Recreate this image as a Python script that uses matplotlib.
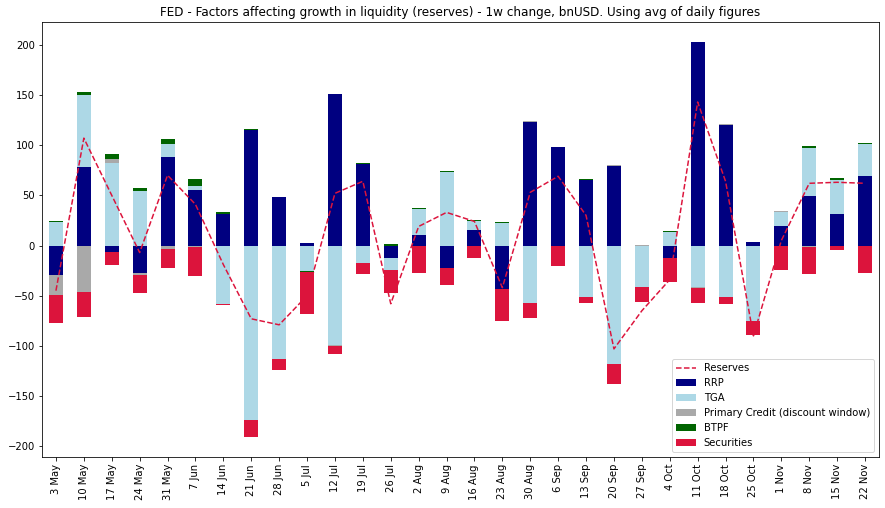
import numpy as np
import matplotlib
matplotlib.use('Agg')
import matplotlib.pyplot as plt

weeks = ['3 May', '10 May', '17 May', '24 May', '31 May', '7 Jun', '14 Jun', '21 Jun', '28 Jun', '5 Jul',
         '12 Jul', '19 Jul', '26 Jul', '2 Aug', '9 Aug', '16 Aug', '23 Aug', '30 Aug', '6 Sep', '13 Sep',
         '20 Sep', '27 Sep', '4 Oct', '11 Oct', '18 Oct', '25 Oct', '1 Nov', '8 Nov', '15 Nov', '22 Nov']

rrp = [-29, 78, -6, -27, 88, 55, 31, 115, 48, 3, 151, 81, -12, 10, -22, 15, -43, 123, 98, 65,
       79, 0, -12, 203, 120, 4, 19, 49, 31, 69]
tga = [23, 72, 82, 54, 13, 4, -58, -174, -113, -25, -99, -17, -12, 26, 73, 9, 22, -57, 0, -51,
       -118, -41, 13, -41, -51, -75, 14, 48, 34, 32]
primary_credit = [-20, -46, 4, -2, -3, -1, 0, 0, 0, 0, -1, 0, 0, 0, 0, 0, 0, 1, 0, 0,
                  1, 1, 0, -1, 1, 0, 1, -1, 0, 0]
btpf = [1, 3, 5, 3, 5, 7, 2, 1, 0, -1, 0, 1, 2, 1, 1, 1, 1, 0, 0, 1,
        0, 0, 1, 0, 0, 0, 0, 2, 2, 1]
securities = [-28, -25, -13, -18, -19, -29, -1, -17, -11, -42, -8, -11, -23, -27, -17, -12, -32, -15, -20, -6,
              -20, -15, -24, -15, -7, -14, -24, -27, -4, -27]

reserves = [-45, 107, 50, -7, 70, 41, -19, -73, -79, -50, 52, 64, -58, 19, 33, 24, -42, 53, 69, 30,
            -103, -65, -34, 143, 64, -90, 5, 62, 63, 62]

series = [('RRP', rrp, 'navy'),
          ('TGA', tga, 'lightblue'),
          ('Primary Credit (discount window)', primary_credit, 'darkgray'),
          ('BTPF', btpf, 'darkgreen'),
          ('Securities', securities, 'crimson')]

fig = plt.figure(figsize=(885 / 72, 508 / 72), dpi=72)
ax = fig.add_axes([42 / 885, 51 / 508, 837 / 885, 435 / 508])

x = np.arange(len(weeks))
ax.plot(x, reserves, color='crimson', linestyle='--', linewidth=1.5, label='Reserves')

# stack positives and negatives separately, like pandas stacked bars
pos_base = np.zeros(len(weeks))
neg_base = np.zeros(len(weeks))
for name, vals, color in series:
    v = np.array(vals, dtype=float)
    bottom = np.where(v >= 0, pos_base, neg_base)
    ax.bar(x, v, width=0.5, bottom=bottom, color=color, label=name)
    pos_base = pos_base + np.where(v >= 0, v, 0)
    neg_base = neg_base + np.where(v < 0, v, 0)

# 5% margin around the stacked extremes
lo, hi = neg_base.min(), pos_base.max()
pad = 0.05 * (hi - lo)
ax.set_ylim(lo - pad, hi + pad)
ax.set_xlim(-0.5, len(weeks) - 0.5)
ax.set_xticks(x)
ax.set_xticklabels(weeks, rotation=90)
ax.set_title('FED - Factors affecting growth in liquidity (reserves) - 1w change, bnUSD. Using avg of daily figures')
ax.legend(loc='lower right')

fig.savefig('out.png', dpi=72)
